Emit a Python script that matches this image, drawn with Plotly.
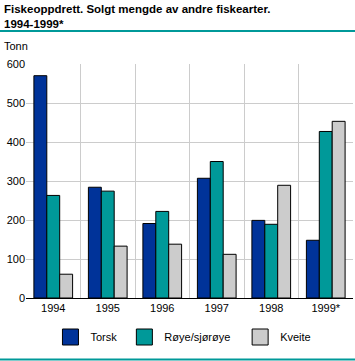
import plotly.graph_objects as go

years = ["1994", "1995", "1996", "1997", "1998", "1999*"]
torsk = [570, 284, 191, 307, 199, 148]
roye = [263, 274, 222, 350, 189, 427]
kveite = [61, 133, 138, 112, 289, 453]
series = [("Torsk", torsk, "#003399"), ("Røye/sjørøye", roye, "#009999"), ("Kveite", kveite, "#cccccc")]
yticks = [0, 100, 200, 300, 400, 500, 600]

font = "Liberation Sans, Arial, sans-serif"
xs = list(range(len(years)))
legend_x = [0.084, 0.310, 0.664]
fig = go.Figure()
for i, (name, vals, col) in enumerate(series):
    fig.add_trace(go.Bar(x=xs, y=vals, name=name, showlegend=False,
                         marker=dict(color=col, line=dict(color="black", width=1))))
for i, (name, vals, col) in enumerate(series):
    lg = "legend" if i == 0 else f"legend{i+1}"
    fig.add_trace(go.Scatter(x=[None], y=[None], mode="markers", name=name, legend=lg,
                             marker=dict(symbol="square", size=16, color=col,
                                         line=dict(color="black", width=1))))

legend_common = dict(orientation="h", y=-39/234, yanchor="middle", xanchor="left",
                     font=dict(size=11, family=font), bgcolor="rgba(0,0,0,0)", itemsizing="trace")

W = 327.0
H = 234.0
fig.update_layout(
    width=355, height=361,
    margin=dict(l=26, r=2, t=64, b=63, autoexpand=False),
    paper_bgcolor="white", plot_bgcolor="white",
    barmode="group", bargap=0.29, bargroupgap=0,
    font=dict(family=font, size=11, color="black"),
    legend=dict(x=legend_x[0] - 3/W, **legend_common),
    legend2=dict(x=legend_x[1] - 3/W, **legend_common),
    legend3=dict(x=legend_x[2] - 3/W, **legend_common),
    xaxis=dict(range=[-0.5, len(years) - 0.5], tickvals=xs, ticktext=years,
               showgrid=False, showline=True, linecolor="black", linewidth=1,
               ticks="", zeroline=False,
               minor=dict(tickvals=[i - 0.5 for i in range(len(years) + 1)], showgrid=True,
                          gridcolor="#cccccc", gridwidth=1, ticks="")),
    yaxis=dict(range=[0, 600], tickvals=yticks, showgrid=True, gridcolor="#cccccc",
               gridwidth=1, zeroline=False, showline=False, ticks="", ticklen=0),
)
fig.add_shape(type="rect", xref="paper", yref="paper", x0=-26/W, x1=1 + 2/W,
              y0=1.0 + 32/H, y1=1.0 + 34/H, fillcolor="#009999", line=dict(width=0), layer="above")
fig.add_shape(type="rect", xref="paper", yref="paper", x0=-26/W, x1=1 + 2/W,
              y0=-62.5/H, y1=-60.5/H, fillcolor="#009999", line=dict(width=0), layer="above")
fig.add_annotation(text="<b>Fiskeoppdrett. Solgt mengde av andre fiskearter.<br>1994-1999*</b>",
                   xref="paper", yref="paper", x=-24/W, y=1 + 63/H, xanchor="left", yanchor="top",
                   showarrow=False, align="left", font=dict(size=11.5, family=font))
fig.add_annotation(text="Tonn", xref="paper", yref="paper", x=-24/W, y=1 + 10/H, xanchor="left",
                   yanchor="bottom", showarrow=False, font=dict(size=11, family=font))
fig.write_html("out.html")
